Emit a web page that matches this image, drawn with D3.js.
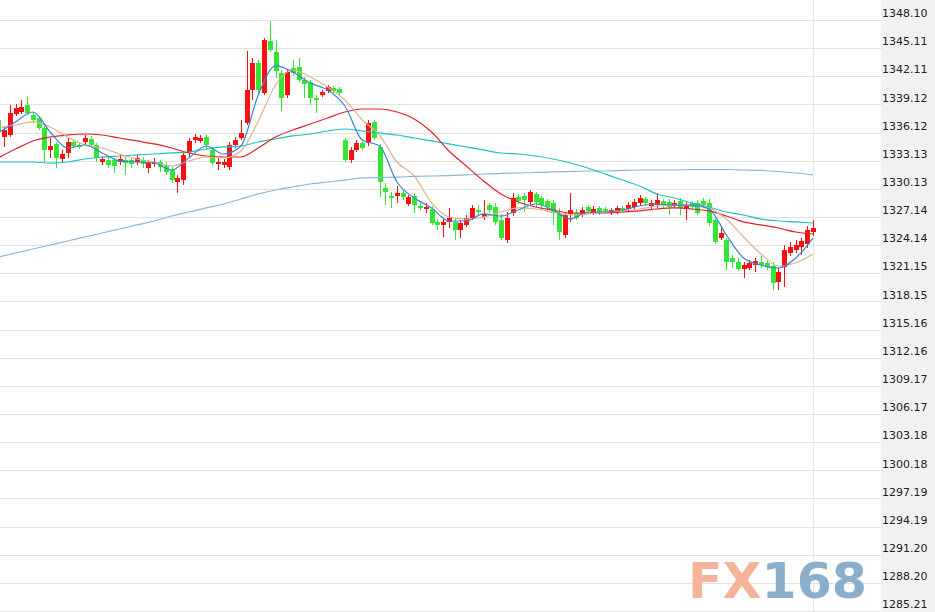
<!DOCTYPE html>
<html>
<head>
<meta charset="utf-8">
<script src="https://cdn.jsdelivr.net/npm/d3@7/dist/d3.min.js"></script>
<style>
  html, body { margin: 0; padding: 0; background: #ffffff; }
  svg { display: block; }
</style>
</head>
<body>
<svg id="chart" width="935" height="612"></svg>
<script>
// Price scale labels shown on the right-hand axis
const tickLabels = ["1348.10","1345.11","1342.11","1339.12","1336.12","1333.13","1330.13","1327.14","1324.14","1321.15","1318.15","1315.16","1312.16","1309.17","1306.17","1303.18","1300.18","1297.19","1294.19","1291.20","1288.20","1285.21"];

// Candle data (one entry per bar, oldest first)
const candleOpen = [1337.46,1335.65,1335.86,1338.10,1338.31,1339.06,1337.99,1337.67,1336.61,1334.27,1334.91,1333.31,1333.95,1335.12,1334.80,1335.12,1335.44,1334.80,1332.99,1333.20,1333.20,1332.99,1333.20,1333.20,1332.99,1333.20,1332.35,1332.78,1332.99,1332.67,1332.14,1330.86,1331.07,1334.05,1335.33,1335.23,1335.65,1334.27,1332.78,1332.67,1332.46,1334.80,1335.54,1337.14,1340.65,1343.52,1340.33,1345.87,1344.69,1342.46,1340.12,1342.99,1343.10,1341.72,1341.50,1339.80,1340.12,1340.55,1340.86,1340.76,1335.33,1333.20,1334.27,1335.01,1335.01,1337.25,1334.59,1330.22,1329.37,1329.37,1329.69,1328.52,1329.37,1328.31,1327.99,1327.99,1326.61,1326.29,1326.61,1326.61,1325.75,1326.29,1327.03,1327.88,1327.14,1328.41,1328.20,1326.82,1324.69,1327.56,1329.27,1329.37,1328.73,1329.59,1329.16,1328.84,1328.63,1327.56,1325.22,1327.46,1327.56,1327.46,1328.20,1327.56,1328.10,1327.99,1327.56,1327.67,1328.10,1327.99,1328.20,1328.63,1329.05,1328.31,1328.41,1328.84,1328.73,1328.31,1328.84,1327.99,1328.63,1328.63,1328.84,1328.63,1326.82,1324.90,1324.69,1322.77,1322.35,1321.60,1321.71,1322.03,1322.35,1322.24,1321.92,1320.22,1321.82,1323.31,1323.63,1323.94,1324.26,1325.54];
const candleHigh = [1337.67,1336.72,1339.06,1339.16,1339.59,1339.91,1338.31,1337.89,1336.82,1335.54,1335.12,1334.27,1335.65,1335.33,1335.01,1335.86,1335.76,1335.01,1333.63,1333.52,1333.42,1333.74,1333.52,1333.42,1333.74,1333.52,1333.20,1333.42,1333.20,1332.99,1332.46,1331.61,1334.05,1335.54,1335.97,1335.86,1335.86,1334.59,1333.42,1333.31,1335.12,1335.65,1337.46,1344.80,1344.06,1343.84,1346.18,1347.99,1345.97,1342.78,1342.89,1343.84,1344.06,1342.04,1341.72,1340.12,1340.65,1341.18,1341.08,1340.97,1335.54,1334.59,1335.33,1335.23,1337.46,1337.46,1334.91,1330.76,1329.80,1330.44,1330.01,1329.48,1329.69,1328.63,1328.63,1328.31,1326.92,1326.92,1328.10,1327.03,1326.82,1327.35,1328.41,1328.41,1328.95,1328.63,1328.63,1327.46,1327.67,1329.69,1329.59,1329.69,1330.01,1329.80,1329.37,1329.05,1328.95,1328.10,1327.67,1329.69,1327.99,1328.20,1328.41,1328.31,1328.31,1328.20,1328.10,1328.31,1328.31,1328.73,1329.05,1329.48,1329.27,1328.95,1329.69,1329.05,1329.05,1328.95,1329.16,1328.73,1328.84,1328.95,1329.16,1329.05,1327.03,1326.07,1324.90,1323.09,1322.77,1322.35,1322.56,1322.77,1322.99,1322.45,1322.35,1321.71,1324.16,1324.48,1324.69,1324.90,1326.18,1326.82];
const candleLow = [1335.86,1334.59,1335.65,1337.89,1338.10,1337.99,1337.14,1336.40,1332.99,1333.42,1332.35,1332.88,1333.42,1334.48,1334.37,1334.80,1334.59,1332.99,1332.67,1332.35,1331.82,1332.67,1331.61,1332.35,1332.67,1332.35,1331.82,1332.46,1331.93,1331.61,1330.76,1329.69,1330.54,1333.52,1335.01,1335.01,1334.27,1332.67,1332.14,1332.35,1332.14,1334.48,1335.33,1336.93,1339.59,1340.12,1340.12,1344.69,1341.93,1338.42,1339.80,1342.14,1341.50,1339.80,1339.06,1338.21,1339.91,1340.33,1340.33,1340.12,1332.99,1332.88,1334.05,1334.27,1334.69,1335.33,1329.27,1328.41,1328.10,1328.63,1328.95,1328.31,1327.56,1327.88,1327.56,1326.29,1325.75,1325.01,1325.97,1324.69,1324.90,1326.07,1326.82,1327.35,1326.82,1327.56,1326.29,1324.69,1324.37,1327.24,1328.52,1327.67,1328.41,1328.20,1327.88,1327.67,1326.29,1324.69,1324.90,1326.61,1326.82,1327.14,1327.46,1327.35,1327.35,1327.56,1327.35,1327.46,1327.56,1327.78,1327.99,1328.31,1328.31,1327.99,1328.10,1328.10,1327.35,1328.10,1327.35,1326.82,1327.88,1327.35,1328.10,1326.18,1324.26,1324.69,1321.50,1321.71,1321.39,1320.65,1321.50,1321.28,1321.71,1321.50,1319.37,1319.37,1319.69,1322.99,1323.31,1323.09,1323.84,1325.12];
const candleClose = [1336.18,1336.40,1338.21,1338.74,1338.84,1338.21,1337.46,1336.61,1334.27,1334.69,1333.42,1333.84,1335.12,1334.69,1334.59,1335.54,1334.80,1333.42,1333.31,1332.67,1332.56,1333.31,1332.88,1332.78,1333.42,1332.78,1332.88,1332.99,1332.46,1331.93,1331.07,1331.29,1333.74,1335.23,1335.65,1335.54,1334.80,1332.88,1332.99,1332.99,1334.80,1335.33,1336.08,1340.65,1343.52,1340.65,1345.97,1344.91,1342.67,1339.80,1342.57,1342.46,1341.72,1341.29,1339.80,1339.59,1340.44,1340.97,1340.55,1340.33,1333.20,1334.27,1335.01,1334.48,1337.14,1335.54,1330.86,1329.80,1329.16,1329.69,1329.27,1329.27,1328.41,1328.10,1328.20,1326.50,1326.29,1326.61,1327.03,1325.75,1326.50,1327.03,1328.10,1327.67,1327.46,1327.88,1326.61,1324.90,1327.03,1329.16,1328.84,1328.95,1329.80,1328.73,1328.41,1328.20,1327.56,1325.54,1327.35,1327.88,1327.03,1327.88,1327.78,1327.99,1327.67,1327.78,1327.88,1328.10,1327.88,1328.41,1328.73,1329.16,1328.63,1328.63,1328.95,1328.41,1328.20,1328.63,1328.10,1328.41,1328.20,1327.56,1328.41,1326.50,1324.48,1325.43,1322.35,1322.35,1321.60,1322.03,1322.24,1322.45,1322.03,1321.82,1320.11,1321.28,1323.63,1323.94,1324.16,1324.58,1325.75,1325.97];

// Moving-average series, sampled at these bar indices
const maIndex = [0,3,6,9,12,15,18,21,24,27,30,33,36,39,42,45,48,51,54,57,60,63,66,69,72,75,78,81,84,87,90,93,96,99,102,105,108,111,114,117,120,123,126,129,132,135,138,141];
const ma5 = [1336.08,1337.25,1338.31,1336.18,1334.48,1334.80,1333.95,1333.10,1332.99,1332.88,1332.14,1333.42,1334.69,1333.84,1334.69,1340.12,1343.21,1342.57,1341.40,1340.65,1338.95,1335.33,1334.69,1330.86,1329.16,1328.10,1326.71,1326.71,1327.46,1327.24,1327.88,1328.52,1327.88,1326.92,1327.67,1327.67,1327.88,1328.31,1328.52,1328.41,1328.41,1327.99,1325.22,1322.77,1322.03,1321.71,1322.77,1324.90];
const ma10 = [1336.61,1336.93,1337.25,1336.72,1335.65,1334.80,1334.48,1333.84,1333.31,1332.99,1332.56,1333.10,1333.52,1333.42,1334.16,1337.35,1341.18,1342.78,1342.04,1340.97,1339.59,1337.46,1335.86,1332.99,1331.50,1328.63,1327.14,1326.92,1327.14,1327.67,1328.10,1327.99,1327.67,1327.35,1327.46,1327.67,1327.78,1327.99,1328.31,1328.41,1328.41,1328.10,1326.92,1325.01,1323.20,1321.92,1322.24,1323.20];
const ma20 = [1333.42,1334.37,1335.23,1335.65,1335.86,1335.97,1335.86,1335.54,1335.23,1334.91,1334.48,1333.95,1333.63,1333.52,1333.52,1334.48,1335.65,1336.40,1337.03,1337.67,1338.31,1338.63,1338.63,1338.31,1337.57,1336.18,1334.16,1332.56,1330.97,1329.59,1328.73,1328.20,1327.88,1327.56,1327.56,1327.56,1327.67,1327.78,1327.99,1328.10,1327.99,1327.78,1327.24,1326.61,1326.29,1325.97,1325.54,1325.33];
const ma60 = [1332.99,1332.99,1332.99,1332.88,1332.99,1333.31,1333.52,1333.63,1333.74,1333.84,1333.95,1334.05,1334.37,1334.59,1334.69,1335.12,1335.44,1335.76,1335.97,1336.29,1336.50,1336.29,1336.08,1335.86,1335.54,1335.23,1334.91,1334.59,1334.27,1333.95,1333.84,1333.63,1333.31,1332.88,1332.35,1331.71,1331.07,1330.44,1329.59,1329.16,1328.63,1328.20,1327.67,1327.35,1326.92,1326.71,1326.61,1326.50];
const ma120 = [1322.88,1323.31,1323.73,1324.16,1324.58,1325.01,1325.43,1325.86,1326.29,1326.71,1327.24,1327.67,1328.10,1328.52,1329.05,1329.59,1330.01,1330.33,1330.65,1330.86,1331.07,1331.29,1331.34,1331.39,1331.45,1331.50,1331.55,1331.61,1331.71,1331.77,1331.82,1331.87,1331.93,1331.98,1332.03,1332.03,1332.09,1332.14,1332.14,1332.14,1332.19,1332.19,1332.19,1332.14,1332.09,1331.98,1331.82,1331.61];

const W = 935, H = 612;
const plotRight = 881;
const svg = d3.select("#chart");

const y = d3.scaleLinear().domain([1285.21, 1348.10]).range([611, 20]);
const x = d3.scaleLinear().domain([0, candleOpen.length - 1]).range([-1.8, 813]);

// Right-hand price panel
svg.append("rect")
  .attr("x", plotRight).attr("y", 0)
  .attr("width", W - plotRight).attr("height", H)
  .attr("fill", "#f1f1f1");

const tickValues = tickLabels.map(Number);

// Horizontal grid
svg.append("g")
  .selectAll("line")
  .data(tickValues)
  .join("line")
  .attr("x1", 0).attr("x2", plotRight)
  .attr("y1", d => Math.round(y(d)) + 0.5)
  .attr("y2", d => Math.round(y(d)) + 0.5)
  .attr("stroke", "#e2e2e2")
  .attr("stroke-width", 1);

// Vertical marker at the latest bar
svg.append("line")
  .attr("x1", Math.round(x(candleOpen.length - 1)) + 0.5)
  .attr("x2", Math.round(x(candleOpen.length - 1)) + 0.5)
  .attr("y1", 0).attr("y2", H)
  .attr("stroke", "#e6e6e6")
  .attr("stroke-width", 1);

// Watermark
const mark = svg.append("text")
  .attr("x", 688).attr("y", 598)
  .attr("font-family", "DejaVu Sans, Verdana, sans-serif")
  .attr("font-weight", "bold")
  .attr("font-size", 49)
  .attr("textLength", 179)
  .attr("lengthAdjust", "spacingAndGlyphs")
  .attr("opacity", 0.92);
mark.append("tspan").attr("fill", "#f6ad91").text("FX");
mark.append("tspan").attr("fill", "#82a8c6").text("168");

// Candles
const candles = d3.range(candleOpen.length).map(i => ({
  i, o: candleOpen[i], h: candleHigh[i], l: candleLow[i], c: candleClose[i]
}));
const upColor = "#ff1010", downColor = "#33e633";
const bodyW = 5;

const cg = svg.append("g").attr("shape-rendering", "crispEdges");
cg.selectAll("line")
  .data(candles)
  .join("line")
  .attr("x1", d => Math.round(x(d.i)) + 0.5)
  .attr("x2", d => Math.round(x(d.i)) + 0.5)
  .attr("y1", d => y(d.h))
  .attr("y2", d => y(d.l))
  .attr("stroke", d => d.c >= d.o ? upColor : downColor)
  .attr("stroke-width", 1);
cg.selectAll("rect")
  .data(candles)
  .join("rect")
  .attr("x", d => Math.round(x(d.i)) - 2)
  .attr("width", bodyW)
  .attr("y", d => y(Math.max(d.o, d.c)))
  .attr("height", d => Math.max(1, Math.abs(y(d.o) - y(d.c))))
  .attr("fill", d => d.c >= d.o ? upColor : downColor);

// Moving averages
const maSeries = [
  { values: ma120, color: "#8ab6da" },
  { values: ma60, color: "#1fc1c3" },
  { values: ma20, color: "#e3202a" },
  { values: ma10, color: "#e0b08c" },
  { values: ma5, color: "#3b82d6" }
];
const line = d3.line()
  .x(d => x(d[0]))
  .y(d => y(d[1]))
  .curve(d3.curveMonotoneX);
svg.append("g")
  .selectAll("path")
  .data(maSeries)
  .join("path")
  .attr("d", s => line(maIndex.map((k, j) => [k, s.values[j]])))
  .attr("fill", "none")
  .attr("stroke", s => s.color)
  .attr("stroke-width", 1.2);

// Right axis labels
const axis = d3.axisRight(y)
  .tickValues(tickValues)
  .tickFormat(d3.format(".2f"))
  .tickSize(0)
  .tickPadding(1);
const ag = svg.append("g")
  .attr("transform", `translate(${plotRight},0)`)
  .call(axis);
ag.select(".domain").remove();
ag.selectAll("text")
  .attr("dy", "-0.3em")
  .attr("fill", "#222")
  .attr("font-family", "DejaVu Sans, Verdana, sans-serif")
  .attr("font-size", 11);
</script>
</body>
</html>
